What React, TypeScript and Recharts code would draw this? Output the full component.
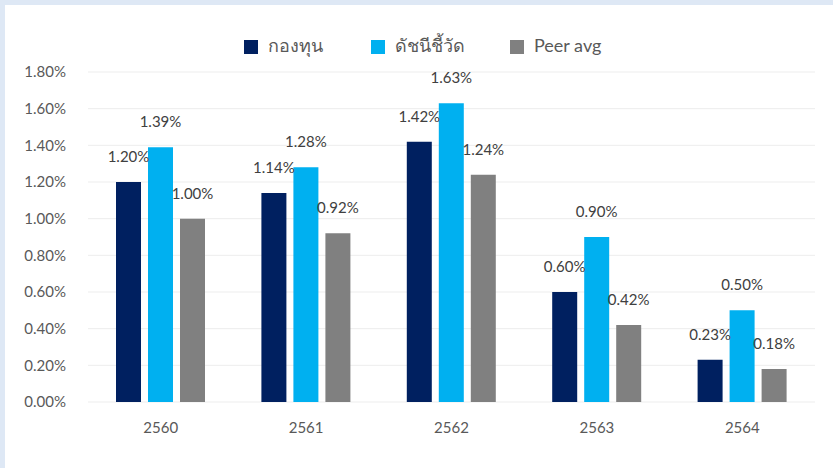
import { BarChart, Bar, XAxis, YAxis, CartesianGrid, LabelList } from 'recharts'

const NAVY = '#002060'
const CYAN = '#00B0F0'
const GRAY = '#808080'
const TEXT = '#595959'
const FONT = "Lato, 'Noto Sans', 'Noto Sans CJK SC', sans-serif"

const years = ['2560', '2561', '2562', '2563', '2564']
const fund = [1.2, 1.14, 1.42, 0.6, 0.23]
const benchmark = [1.39, 1.28, 1.63, 0.9, 0.5]
const peerAvg = [1.0, 0.92, 1.24, 0.42, 0.18]
const yTicks = [0, 0.2, 0.4, 0.6, 0.8, 1.0, 1.2, 1.4, 1.6, 1.8]
const seriesNames = ['กองทุน', 'ดัชนีชี้วัด', 'Peer avg']

const data = years.map((y, i) => ({
  year: y,
  fund: fund[i],
  benchmark: benchmark[i],
  peer: peerAvg[i],
}))

const pct = (v: number) => `${Number(v).toFixed(2)}%`

// legend drawn as html so it doesn't push the plot down
const legendItems = [
  { name: seriesNames[0], color: NAVY, x: 244 },
  { name: seriesNames[1], color: CYAN, x: 371 },
  { name: seriesNames[2], color: GRAY, x: 510 },
]

const labelStyle = { fontSize: 15, fill: '#404040', fontFamily: FONT }

export default function App() {
  return (
    <div style={{ position: 'fixed', inset: 0, width: 833, height: 468, background: '#DEE8F5', fontFamily: FONT }}>
      <div style={{ position: 'absolute', left: 5, top: 5, width: 828, height: 463, background: '#fff' }}>
        <BarChart
          width={828}
          height={463}
          data={data}
          margin={{ top: 67, right: 18, left: 0, bottom: 36 }}
          barSize={25}
          barGap={7}
        >
          <CartesianGrid stroke="#EDEDED" vertical={false} />
          <XAxis
            dataKey="year"
            axisLine={false}
            tickLine={false}
            tickMargin={14}
            height={30}
            tick={{ fontSize: 15, fill: TEXT, fontFamily: FONT }}
          />
          <YAxis
            domain={[0, 1.8]}
            ticks={yTicks}
            width={83}
            axisLine={false}
            tickLine={false}
            tickMargin={16}
            tickFormatter={pct}
            tick={{ fontSize: 15, fill: TEXT, fontFamily: FONT }}
          />
          <Bar dataKey="fund" name={seriesNames[0]} fill={NAVY} isAnimationActive={false}>
            <LabelList dataKey="fund" position="top" offset={20} formatter={pct} style={labelStyle} />
          </Bar>
          <Bar dataKey="benchmark" name={seriesNames[1]} fill={CYAN} isAnimationActive={false}>
            <LabelList dataKey="benchmark" position="top" offset={20} formatter={pct} style={labelStyle} />
          </Bar>
          <Bar dataKey="peer" name={seriesNames[2]} fill={GRAY} isAnimationActive={false}>
            <LabelList dataKey="peer" position="top" offset={20} formatter={pct} style={labelStyle} />
          </Bar>
        </BarChart>
      </div>
      {legendItems.map(it => (
        <div
          key={it.name}
          style={{ position: 'absolute', left: it.x, top: 33, height: 24, display: 'flex', alignItems: 'center', fontSize: 18, color: TEXT }}
        >
          <span style={{ display: 'inline-block', width: 14, height: 14, background: it.color, marginRight: 10, marginTop: 4 }} />
          <span>{it.name}</span>
        </div>
      ))}
    </div>
  )
}
